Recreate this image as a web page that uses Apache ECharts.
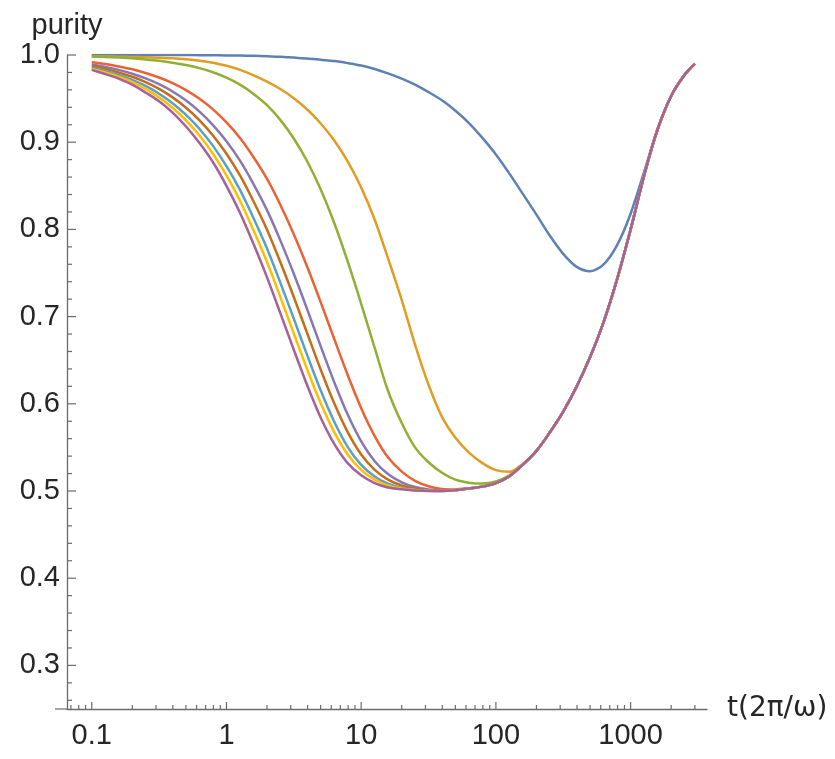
<!DOCTYPE html>
<html><head><meta charset="utf-8">
<script src="https://cdn.jsdelivr.net/npm/echarts@6/dist/echarts.min.js"></script>
<style>html,body{margin:0;padding:0;background:#fff}#c{width:835px;height:759px}</style>
</head><body><div id="c"></div>
<script>
// ---- data ----
const tValues = [0.1,0.126,0.158,0.2,0.251,0.316,0.398,0.501,0.631,0.794,
                 1,1.26,1.58,2,2.51,3.16,3.98,5.01,6.31,7.94,
                 10,12.6,15.8,20,25.1,31.6,39.8,50.1,63.1,79.4,
                 100,126,158,200,251,316,398,501,631,794,
                 1000,1260,1580,2000,2510,3000];
const purityBlue = [1,1,1,1,1,1,0.9999,0.9999,0.9998,0.9997,
  0.9995,0.9993,0.999,0.9985,0.998,0.997,0.996,0.9945,0.993,0.9907,
  0.988,0.984,0.979,0.973,0.966,0.9575,0.948,0.936,0.922,0.905,
  0.886,0.864,0.841,0.817,0.793,0.772,0.757,0.752,0.760,0.782,
  0.818,0.866,0.914,0.953,0.977,0.990];
const purityOrange = [0.9985,0.9983,0.9981,0.9978,0.9974,0.9969,0.9962,0.9951,0.9935,0.9911,
  0.9876,0.983,0.977,0.9695,0.961,0.9505,0.9375,0.9215,0.902,0.878,
  0.848,0.811,0.767,0.719,0.668,0.622,0.585,0.561,0.544,0.532,
  0.524,0.522,0.531,0.546,0.567,0.591,0.620,0.654,0.694,0.743,
  0.800,0.862,0.914,0.953,0.977,0.990];
const purityGreen = [0.9983,0.9978,0.9971,0.9962,0.9949,0.9933,0.9912,0.9885,0.9849,0.9802,
  0.974,0.966,0.9557,0.9425,0.9256,0.9043,0.8779,0.8457,0.8074,0.7633,
  0.7147,0.664,0.615,0.578,0.550,0.533,0.521,0.513,0.5095,0.5085,
  0.511,0.518,0.530,0.546,0.567,0.591,0.620,0.654,0.694,0.743,
  0.800,0.862,0.914,0.953,0.977,0.990];
const purityRed = [0.9916,0.9896,0.9869,0.9836,0.9794,0.9742,0.9678,0.9598,0.9498,0.9376,
  0.9227,0.9048,0.8833,0.8579,0.8283,0.7944,0.7568,0.7163,0.6743,0.6330,
  0.5950,0.5630,0.5386,0.5222,0.5117,0.5055,0.5023,0.5018,0.5032,0.505,
  0.509,0.517,0.530,0.546,0.567,0.591,0.620,0.654,0.694,0.743,
  0.800,0.862,0.914,0.953,0.977,0.990];
const purityPurple = [0.9891,0.9863,0.9829,0.9785,0.9731,0.9665,0.9581,0.9477,0.9350,0.9196,
  0.9011,0.8788,0.8526,0.8221,0.7874,0.7491,0.7080,0.6658,0.6248,0.5877,
  0.5570,0.5342,0.5194,0.5099,0.5045,0.5018,0.5006,0.501,0.503,0.505,
  0.509,0.517,0.530,0.546,0.567,0.591,0.620,0.654,0.694,0.743,
  0.800,0.862,0.914,0.953,0.977,0.990];
const purityBrown = [0.9873,0.9841,0.9800,0.9750,0.9688,0.9611,0.9514,0.9395,0.9251,0.9077,
  0.8867,0.8619,0.8329,0.7997,0.7626,0.7225,0.6806,0.6391,0.6005,0.5675,
  0.5419,0.5243,0.5131,0.5063,0.5026,0.5010,0.5002,0.501,0.503,0.505,
  0.509,0.517,0.530,0.546,0.567,0.591,0.620,0.654,0.694,0.743,
  0.800,0.862,0.914,0.953,0.977,0.990];
const purityCyan = [0.9855,0.9818,0.9772,0.9715,0.9645,0.9556,0.9447,0.9313,0.9152,0.8958,
  0.8725,0.8453,0.8137,0.7781,0.7390,0.6976,0.6555,0.6152,0.5795,0.5507,
  0.5299,0.5167,0.5083,0.5036,0.5014,0.5004,0.5000,0.501,0.503,0.505,
  0.509,0.517,0.530,0.546,0.567,0.591,0.620,0.654,0.694,0.743,
  0.800,0.862,0.914,0.953,0.977,0.990];
const purityYellow = [0.9841,0.9800,0.9750,0.9688,0.9611,0.9514,0.9395,0.9251,0.9077,0.8867,
  0.8619,0.8329,0.7997,0.7626,0.7225,0.6806,0.6391,0.6005,0.5675,0.5419,
  0.5243,0.5131,0.5063,0.5026,0.5010,0.5002,0.5000,0.501,0.503,0.505,
  0.509,0.517,0.530,0.546,0.567,0.591,0.620,0.654,0.694,0.743,
  0.800,0.862,0.914,0.953,0.977,0.990];
const purityMagenta = [0.983,0.978,0.973,0.966,0.957,0.947,0.934,0.918,0.899,0.877,
  0.850,0.819,0.784,0.745,0.704,0.662,0.621,0.584,0.554,0.532,
  0.518,0.509,0.504,0.502,0.5005,0.500,0.500,0.501,0.503,0.505,
  0.509,0.517,0.530,0.546,0.567,0.591,0.620,0.654,0.694,0.743,
  0.800,0.862,0.914,0.953,0.977,0.990];
const xTickLabels = [0.1, 1, 10, 100, 1000];
const yTickLabels = [0.3, 0.4, 0.5, 0.6, 0.7, 0.8, 0.9, 1.0];
const xMin = 0.0655, xMax = 3690, yMin = 0.25, yMax = 1.0;

const seriesData = [purityBlue, purityOrange, purityGreen, purityRed, purityPurple, purityBrown, purityCyan, purityYellow, purityMagenta];
const colors = ['#5E81B5','#E19C24','#8FB032','#EB6235','#8778B3','#C56E1A','#5D9EC7','#FFBF00','#A5609D'];

const FONT = '"Liberation Sans", Arial, Helvetica, sans-serif';
const axisColor = '#6b6b6b';
const textColor = '#262626';

const chart = echarts.init(document.getElementById('c'), null, {renderer: 'canvas'});
const option = {
  animation: false,
  backgroundColor: '#ffffff',
  grid: {left: 67, right: 128, top: 55, bottom: 50, containLabel: false, outerBoundsMode: 'none'},
  xAxis: {
    type: 'log', logBase: 10, min: xMin, max: xMax,
    axisLine: {onZero: false, lineStyle: {color: axisColor, width: 1.3}},
    axisTick: {show: false}, minorTick: {show: false}, splitLine: {show: false},
    axisLabel: {
      fontSize: 29, fontFamily: FONT, color: textColor, margin: 12, hideOverlap: false,
      formatter: function (v) {
        const m = xTickLabels.find(l => Math.abs(Math.log10(v) - Math.log10(l)) < 1e-6);
        return m !== undefined ? String(m) : '';
      }
    },
    name: 't(2\u03C0/\u03C9)', nameLocation: 'end', nameGap: 20,
    nameTextStyle: {fontSize: 28, fontFamily: '"DejaVu Sans", sans-serif', color: textColor, align: 'left', verticalAlign: 'middle'}
  },
  yAxis: {
    type: 'value', min: yMin, max: yMax, splitNumber: 8,
    axisLine: {onZero: false, lineStyle: {color: axisColor, width: 1.3}},
    axisTick: {show: false}, minorTick: {show: false}, splitLine: {show: false},
    axisLabel: {
      fontSize: 29, fontFamily: FONT, color: textColor, margin: 7, hideOverlap: false,
      formatter: function (v) {
        const m = yTickLabels.find(l => Math.abs(v - l) < 1e-6);
        return m !== undefined ? m.toFixed(1) : '';
      }
    },
    name: 'purity', nameLocation: 'end', nameGap: 9,
    nameTextStyle: {fontSize: 29, fontFamily: FONT, color: textColor, align: 'center', verticalAlign: 'bottom'}
  },
  series: seriesData.map((arr, i) => ({
    type: 'line', symbol: 'none', showSymbol: false, smooth: 0.3,
    lineStyle: {width: 2.5, color: colors[i]}, itemStyle: {color: colors[i]},
    data: tValues.map((t, j) => [t, arr[j]])
  }))
};
chart.setOption(option);

// Mathematica-style ticks (major + minor), placed through the chart's own scales
const els = [];
const origin = chart.convertToPixel({gridIndex: 0}, [xMin, yMin]);
const ax0 = origin[0], ay0 = origin[1];
function tickLine(x1, y1, x2, y2) {
  els.push({type: 'line', silent: true, shape: {x1, y1, x2, y2}, style: {stroke: axisColor, lineWidth: 1.2}});
}
for (let k = 13; k <= 50; k++) {
  const v = k / 50;
  const py = chart.convertToPixel({gridIndex: 0}, [xMin, v])[1];
  const major = (k % 5 === 0);
  tickLine(ax0, py, ax0 + (major ? 9 : 5), py);
}
for (let d = -2; d <= 3; d++) {
  for (let m = 1; m <= 9; m++) {
    const v = m * Math.pow(10, d);
    if (v < xMin || v > xMax) continue;
    const px = chart.convertToPixel({gridIndex: 0}, [v, yMin])[0];
    tickLine(px, ay0, px, ay0 - (m === 1 ? 7 : 4));
  }
}
tickLine(ax0 - 12, ay0, ax0, ay0);
chart.setOption({graphic: {elements: els}});
</script>
</body></html>
